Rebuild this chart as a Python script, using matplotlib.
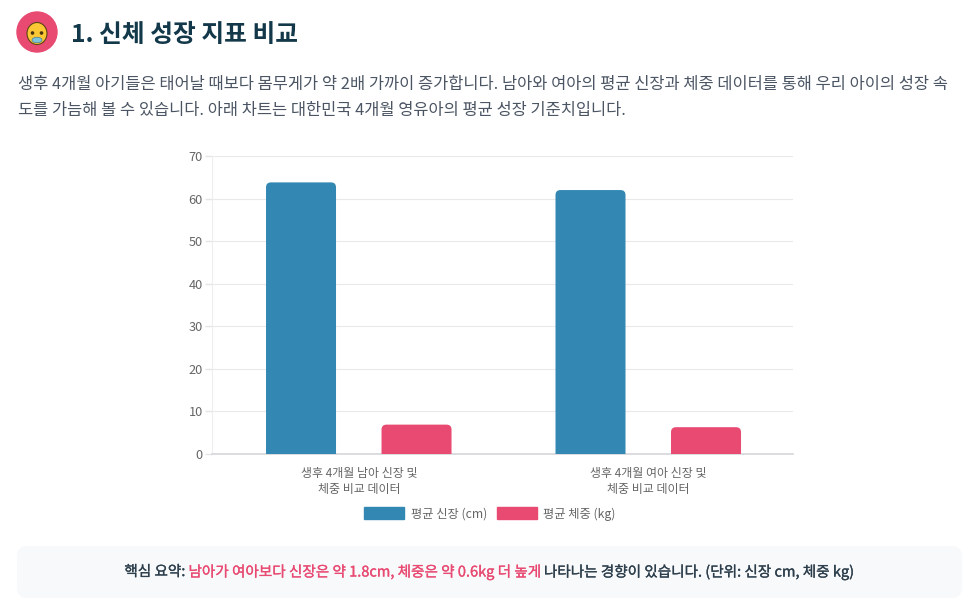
import matplotlib
matplotlib.use('Agg')
import matplotlib.pyplot as plt
import matplotlib.patheffects as pe
from matplotlib.patches import Circle, Ellipse, FancyBboxPatch, PathPatch
from matplotlib.path import Path

plt.rcParams['font.family'] = ['Noto Sans CJK KR', 'DejaVu Sans']

# chart values
categories = ['생후 4개월 남아 신장 및\n체중 비교 데이터', '생후 4개월 여아 신장 및\n체중 비교 데이터']
height_cm = [63.8, 62.0]
weight_kg = [6.9, 6.3]
y_ticks = [0, 10, 20, 30, 40, 50, 60, 70]
series_names = ['평균 신장 (cm)', '평균 체중 (kg)']

title = '1. 신체 성장 지표 비교'
intro_1 = '생후 4개월 아기들은 태어날 때보다 몸무게가 약 2배 가까이 증가합니다. 남아와 여아의 평균 신장과 체중 데이터를 통해 우리 아이의 성장 속'
intro_2 = '도를 가늠해 볼 수 있습니다. 아래 차트는 대한민국 4개월 영유아의 평균 성장 기준치입니다.'
summary_parts = [('핵심 요약: ', '#2d3f4c'),
                 ('남아가 여아보다 신장은 약 1.8cm, 체중은 약 0.6kg 더 높게', '#e84a72'),
                 (' 나타나는 경향이 있습니다. (단위: 신장 cm, 체중 kg)', '#2d3f4c')]

BLUE = '#3288b3'
PINK = '#e84a72'
W, H = 975, 613

fig = plt.figure(figsize=(W / 100, H / 100), dpi=100, facecolor='white')

# page layer in pixel coordinates
page = fig.add_axes([0, 0, 1, 1])
page.set_xlim(0, W)
page.set_ylim(H, 0)
page.axis('off')

# icon
page.add_patch(Circle((37, 32), 20, color=PINK))
page.add_patch(Ellipse((37, 33.5), 20, 22, facecolor='#f9c834', edgecolor='#5e4415', lw=0.8))
page.add_patch(Ellipse((37, 40), 10, 5.5, facecolor='#7cc4dc', edgecolor='#4a7f95', lw=0.5))
page.add_patch(Circle((32.5, 33), 1.1, color='#4a3410'))
page.add_patch(Circle((41.5, 33), 1.1, color='#4a3410'))

page.text(71, 35, title, fontsize=17.8, fontweight='bold', color='#12384a', va='center')
page.text(18, 84, intro_1, fontsize=11.86, color='#4b5563', va='center')
page.text(18, 111, intro_2, fontsize=11.86, color='#4b5563', va='center')

# summary box
page.add_patch(FancyBboxPatch((17, 546), 945, 52, boxstyle='round,pad=0,rounding_size=10',
                              facecolor='#f8f9fb', edgecolor='none'))
renderer = fig.canvas.get_renderer()
pieces = [page.text(0, 572, s, fontsize=10.5, color=c, va='center',
                    path_effects=[pe.withStroke(linewidth=0.2, foreground=c)])
          for s, c in summary_parts]
widths = [p.get_window_extent(renderer).width for p in pieces]
x = 489 - sum(widths) / 2
for p, w in zip(pieces, widths):
    p.set_x(x)
    x += w

# chart
ax = fig.add_axes([212 / W, 1 - 454 / H, 581 / W, 298 / H])
ax.set_xlim(-0.507, 1.5)
ax.set_ylim(0, 70)
ax.set_facecolor('none')

xs = range(len(categories))
bar_w = 0.2418
off = 0.1995


def rounded(bars, color, r=5):
    # swap plain bars for ones with rounded top corners
    rx = r / 289.5
    ry = r * 70 / 298
    for b in bars:
        x0, x1 = b.get_x(), b.get_x() + b.get_width()
        top = b.get_height()
        verts = [(x0, 0), (x0, top - ry), (x0, top), (x0 + rx, top), (x1 - rx, top),
                 (x1, top), (x1, top - ry), (x1, 0), (x0, 0)]
        codes = [Path.MOVETO, Path.LINETO, Path.CURVE3, Path.CURVE3, Path.LINETO,
                 Path.CURVE3, Path.CURVE3, Path.LINETO, Path.CLOSEPOLY]
        b.set_visible(False)
        ax.add_patch(PathPatch(Path(verts, codes), facecolor=color, edgecolor='none', zorder=3))


bars1 = ax.bar([i - off for i in xs], height_cm, bar_w, color=BLUE, label=series_names[0])
bars2 = ax.bar([i + off for i in xs], weight_kg, bar_w, color=PINK, label=series_names[1])
rounded(bars1, BLUE)
rounded(bars2, PINK)

ax.set_yticks(y_ticks)
ax.set_xticks(list(xs))
ax.set_xticklabels(categories, fontsize=8.65, color='#666666', linespacing=1.3)
ax.tick_params(axis='y', length=5, width=1, color='#e5e5e5', labelsize=9.2, labelcolor='#666666', pad=1.5)
ax.tick_params(axis='x', length=0, pad=9)
ax.grid(axis='y', color='#e9e9e9', lw=0.8)
ax.set_axisbelow(True)
for s in ['top', 'right']:
    ax.spines[s].set_visible(False)
ax.spines['left'].set_color('#eeeeee')
ax.spines['bottom'].set_color('#d5d5dc')
ax.spines['bottom'].set_linewidth(1.2)

# legend, drawn on page layer
page.add_patch(plt.Rectangle((364, 507), 40, 12, color=BLUE))
page.text(411, 514, series_names[0], fontsize=8.8, color='#666666', va='center')
page.add_patch(plt.Rectangle((497, 507), 40, 12, color=PINK))
page.text(543, 514, series_names[1], fontsize=8.8, color='#666666', va='center')

fig.savefig('out.png', dpi=100)
